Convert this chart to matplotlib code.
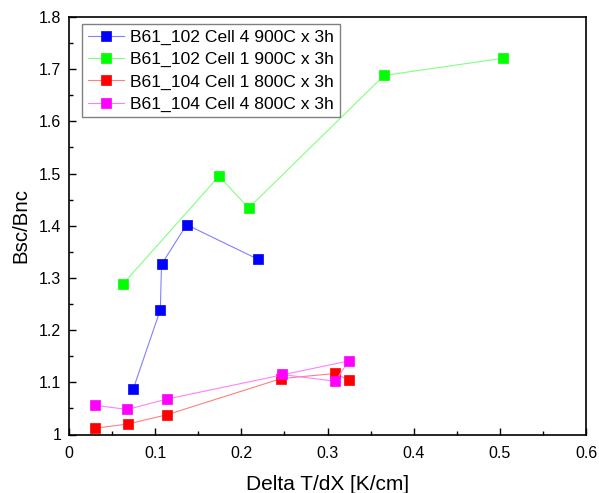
import matplotlib
matplotlib.use("Agg")
import matplotlib.pyplot as plt
from matplotlib.ticker import MultipleLocator, FuncFormatter

plt.rcParams['font.family'] = ['Liberation Sans', 'DejaVu Sans']

labels = ["B61_102 Cell 4 900C x 3h", "B61_102 Cell 1 900C x 3h",
          "B61_104 Cell 1 800C x 3h", "B61_104 Cell 4 800C x 3h"]

x_c4_900 = [0.0747, 0.106, 0.1074, 0.1365, 0.219]
y_c4_900 = [1.088, 1.239, 1.326, 1.402, 1.336]

x_c1_900 = [0.063, 0.174, 0.2085, 0.3656, 0.504]
y_c1_900 = [1.289, 1.495, 1.434, 1.688, 1.721]

x_c1_800 = [0.0303, 0.068, 0.114, 0.246, 0.309, 0.3247]
y_c1_800 = [1.012, 1.020, 1.038, 1.107, 1.117, 1.104]

x_c4_800 = [0.0296, 0.0677, 0.114, 0.3247, 0.309, 0.247]
y_c4_800 = [1.056, 1.048, 1.068, 1.141, 1.102, 1.115]

series = [(x_c4_900, y_c4_900, '#0000ff', '#8080ff'),
          (x_c1_900, y_c1_900, '#00ff00', '#80ff80'),
          (x_c1_800, y_c1_800, '#ff0000', '#ff8080'),
          (x_c4_800, y_c4_800, '#ff00ff', '#ff80ff')]

fig = plt.figure(figsize=(5.99, 4.93), dpi=100)
ax = fig.add_axes([69/599, 1-434.5/493, (586-69)/599, (434.5-17)/493])

for (xs, ys, mc, lc), lab in zip(series, labels):
    ax.plot(xs, ys, color=lc, lw=0.8, marker='s', ms=6.6, mfc=mc, mec=mc,
            mew=0.5, label=lab)

ax.set_xlim(0, 0.6)
ax.set_ylim(1.0, 1.8)
ax.xaxis.set_major_locator(MultipleLocator(0.1))
ax.xaxis.set_minor_locator(MultipleLocator(0.05))
ax.yaxis.set_major_locator(MultipleLocator(0.1))
ax.yaxis.set_minor_locator(MultipleLocator(0.05))
fmt = FuncFormatter(lambda v, p: ('%.1f' % v).rstrip('0').rstrip('.') if abs(v) > 1e-9 else '0')
ax.xaxis.set_major_formatter(fmt)
ax.yaxis.set_major_formatter(fmt)
ax.tick_params(which='both', direction='in', top=False, right=False, labelsize=11.5, width=1)
ax.tick_params(which='major', length=5)
ax.tick_params(which='minor', length=3)
ax.tick_params(axis='x', which='major', pad=8)
ax.tick_params(axis='y', which='major', pad=5.5)
for s in ax.spines.values():
    s.set_linewidth(1.2)

ax.set_xlabel("Delta T/dX [K/cm]", fontsize=15, labelpad=10)
ax.set_ylabel("Bsc/Bnc", fontsize=14.7, labelpad=6)

leg = ax.legend(loc='upper left', bbox_to_anchor=(13.3/517, 1 - 7.3/417.5), fontsize=12.6,
                frameon=True, fancybox=False, edgecolor='#808080', framealpha=1,
                borderpad=0.3, labelspacing=0.4, handlelength=2.1, handletextpad=0.35,
                borderaxespad=0)
leg.get_frame().set_linewidth(1)

fig.savefig("out.png", dpi=100)
